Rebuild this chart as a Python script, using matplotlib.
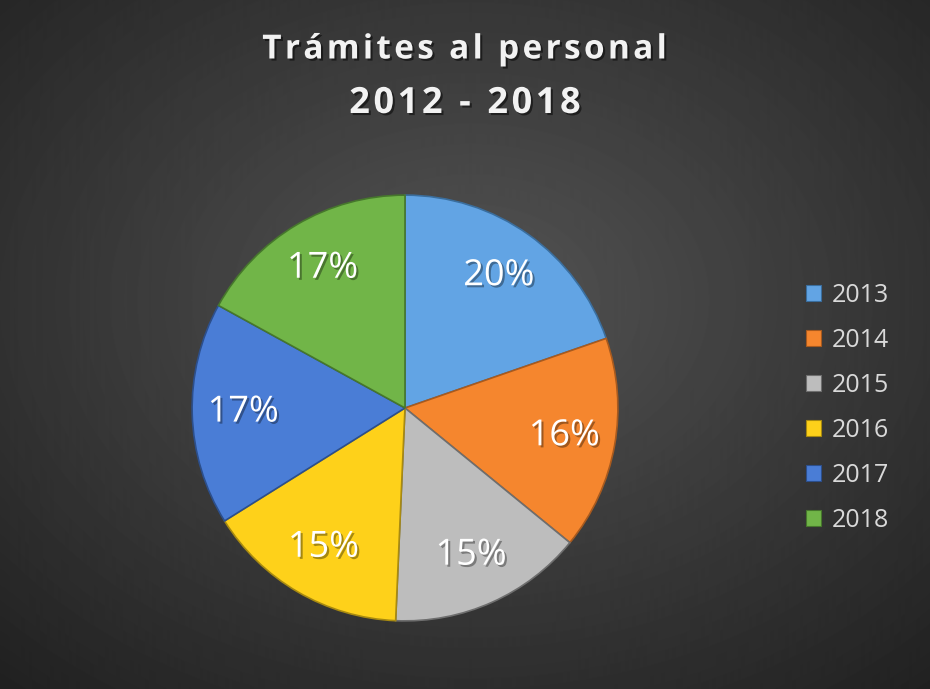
import numpy as np
import matplotlib.pyplot as plt
import matplotlib.patheffects as pe
from matplotlib.patches import Patch

# data
years = ['2013', '2014', '2015', '2016', '2017', '2018']
shares = [19.7, 16.2, 14.8, 15.4, 16.9, 17.0]
colors = ['#62A4E4', '#F5862E', '#BDBDBD', '#FED11A', '#4A7DD6', '#71B548']
edge_colors = ['#3A6E9E', '#A85A1E', '#6E6E6E', '#A88A10', '#2C4F8C', '#46772C']
title_lines = ['Trámites al personal', '2012 - 2018']

W, H = 930, 689
fig = plt.figure(figsize=(W / 100, H / 100), dpi=100)

# radial dark background
bg = fig.add_axes([0, 0, 1, 1])
yy, xx = np.mgrid[0:H, 0:W]
d = np.sqrt(((xx - 470) / W) ** 2 + ((yy - 300) / H) ** 2)
v = 0.33 - 0.20 * np.clip(d / 0.75, 0, 1)
bg.imshow(v, cmap='gray', vmin=0, vmax=1, aspect='auto', extent=[0, 1, 0, 1])
bg.set_axis_off()

# pie
ax = fig.add_axes([190 / W, (H - 623) / H, 430 / W, 430 / H])
wedges, texts, autotexts = ax.pie(
    shares, colors=colors, startangle=90, counterclock=False,
    autopct='%1.0f%%', pctdistance=0.76,
    wedgeprops=dict(linewidth=1.2),
    textprops=dict(color='white', fontsize=26, family='Open Sans'))
for w, ec in zip(wedges, edge_colors):
    w.set_edgecolor(ec)
for t in autotexts:
    t.set_path_effects([pe.withSimplePatchShadow(offset=(1.5, -1.5), shadow_rgbFace='black', alpha=0.35)])
ax.set_xlim(-1.01, 1.01)
ax.set_ylim(-1.01, 1.01)
ax.set_aspect('equal')

# title with a bit of letter spacing
hair = '\u200a'
for line, size, ypx in zip(title_lines, [24, 26], [50, 104]):
    fig.text(465 / W, 1 - ypx / H, hair.join(line), ha='center', va='center', color='#F2F2F2',
             fontsize=size, fontweight='bold', family=['Open Sans', 'DejaVu Sans'],
             path_effects=[pe.withSimplePatchShadow(offset=(1.5, -1.5), shadow_rgbFace='black', alpha=0.5)])

handles = [Patch(facecolor=c, edgecolor=e, linewidth=0.8) for c, e in zip(colors, edge_colors)]
leg = fig.legend(handles, years, loc='center left', bbox_to_anchor=(783 / W, 1 - 408 / H),
                 frameon=False, labelspacing=0.8, handlelength=0.6,
                 handleheight=0.6, handletextpad=0.45, prop=dict(family='Open Sans', size=18))
for t in leg.get_texts():
    t.set_color('#D9D9D9')

fig.savefig('out.png', dpi=100)
